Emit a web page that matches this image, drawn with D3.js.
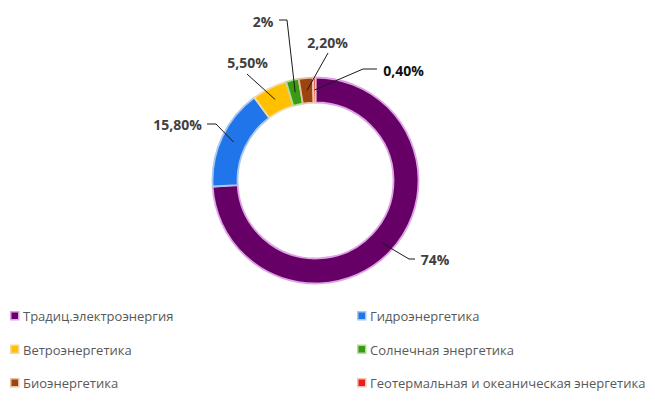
<!DOCTYPE html>
<html>
<head>
<meta charset="utf-8">
<script src="https://cdn.jsdelivr.net/npm/d3@7"></script>
<style>
  body { margin: 0; background: #fff; }
  text { font-family: "Open Sans", "Noto Sans", sans-serif; }
</style>
</head>
<body>
<svg id="chart" width="655" height="406"></svg>
<script>
let categories = ["Традиц.электроэнергия", "Гидроэнергетика", "Ветроэнергетика",
  "Солнечная энергетика", "Биоэнергетика", "Геотермальная и океаническая энергетика"]
let values = [74, 15.8, 5.5, 2, 2.2, 0.4]
let value_labels = ["74%", "15,80%", "5,50%", "2%", "2,20%", "0,40%"]

let fills = ["#660066", "#2175ea", "#ffc000", "#3a9a12", "#9c4410", "#ee1c1c"]
let strokes = ["#dca4e4", "#a9c8ef", "#f3d9a6", "#b5dca0", "#e6c0a4", "#f0c4b0"]

// where excel put each data label and the elbow of its leader line
let label_layout = [
  { x: 435, y: 259, path: [[415, 259], [409, 259]], color: "#404040" },
  { x: 177.5, y: 124, path: [[207, 124], [216, 124]], color: "#404040" },
  { x: 247.5, y: 62, path: [[247, 74]], color: "#404040" },
  { x: 263, y: 21, path: [[279, 20], [287, 20]], color: "#404040" },
  { x: 327.5, y: 42, path: [[328, 53]], color: "#404040" },
  { x: 403.5, y: 70, path: [[377, 69], [363, 69]], color: "#111" }
]

let svg = d3.select("#chart")
let cx = 315.5, cy = 180.5
let r_outer = 103, r_inner = 78

let pie = d3.pie().sort(null).value(d => d)
let arcs = pie(values)
let arc = d3.arc().innerRadius(r_inner).outerRadius(r_outer)

let g = svg.append("g").attr("transform", `translate(${cx},${cy})`)

g.selectAll("path")
  .data(arcs).enter()
  .append("path")
  .attr("d", arc)
  .attr("fill", (d, i) => fills[i])
  .attr("stroke", (d, i) => strokes[i])
  .attr("stroke-width", 1.8)
  .attr("stroke-linejoin", "round")

// leader lines, ending at the middle of the ring
let line = d3.line()
svg.append("g")
  .selectAll("path")
  .data(arcs).enter()
  .append("path")
  .attr("d", (d, i) => {
    let c = arc.centroid(d)
    return line(label_layout[i].path.concat([[c[0] + cx, c[1] + cy]]))
  })
  .attr("fill", "none")
  .attr("stroke", "#1a1a1a")
  .attr("stroke-width", 1)

svg.append("g")
  .selectAll("text")
  .data(value_labels).enter()
  .append("text")
  .attr("x", (d, i) => label_layout[i].x)
  .attr("y", (d, i) => label_layout[i].y)
  .attr("text-anchor", "middle")
  .attr("dominant-baseline", "central")
  .attr("font-size", 14)
  .attr("font-weight", "bold")
  .attr("fill", (d, i) => label_layout[i].color)
  .text(d => d)

// legend, two columns
let col_x = d3.scaleOrdinal().domain([0, 1]).range([10, 357])
let row_y = d3.scaleLinear().domain([0, 2]).range([316, 383])

let legend = svg.append("g")
  .selectAll("g")
  .data(categories).enter()
  .append("g")
  .attr("transform", (d, i) => `translate(${col_x(i % 2)},${row_y(Math.floor(i / 2))})`)

legend.append("rect")
  .attr("x", 0.75).attr("y", -4.25)
  .attr("width", 8).attr("height", 8)
  .attr("fill", (d, i) => fills[i])
  .attr("stroke", (d, i) => strokes[i])
  .attr("stroke-width", 1.5)

legend.append("text")
  .attr("x", 13)
  .attr("y", 0)
  .attr("dominant-baseline", "central")
  .attr("font-size", 13)
  .attr("fill", "#595959")
  .text(d => d)
</script>
</body>
</html>
